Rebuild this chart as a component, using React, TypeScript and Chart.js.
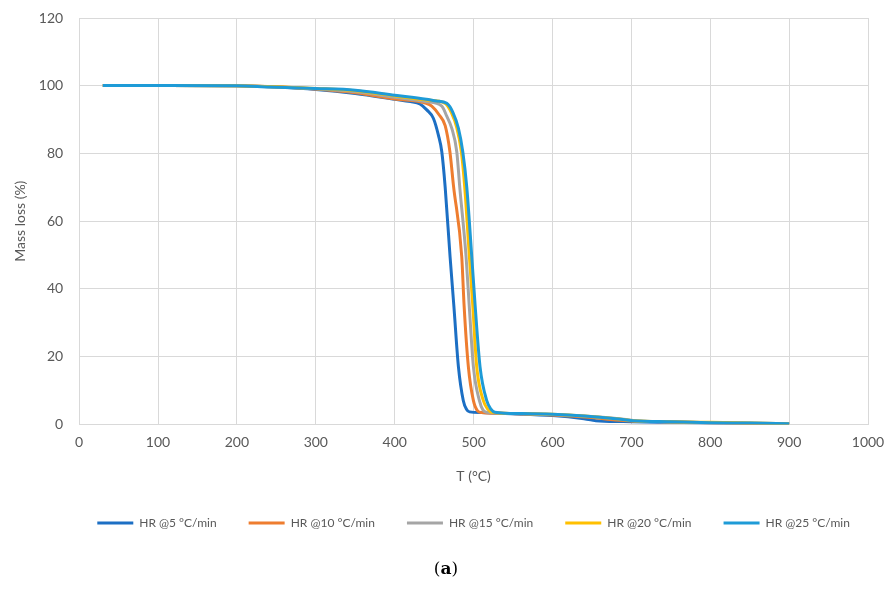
import React, { useEffect, useRef } from "react";
import { Chart, registerables } from "chart.js";

Chart.register(...registerables);

const seriesLabels = ["HR @5 °C/min", "HR @10 °C/min", "HR @15 °C/min", "HR @20 °C/min", "HR @25 °C/min"];
const seriesColors = ["#1C6FC4", "#EE7D2F", "#A5A5A5", "#FFC000", "#1E9BD7"];

const tempHR5 = [30, 100, 200, 250, 300, 350, 400, 420, 432, 441, 449, 455.4, 459.7, 464, 470.2, 475, 480.8, 487, 491, 495, 510, 540, 600, 640, 660, 700, 750, 800, 850, 900];
const massHR5 = [100.1, 100.1, 100, 99.6, 98.9, 97.7, 96, 95.3, 94.6, 92.8, 90.4, 85.4, 80.5, 70, 49.5, 35, 17, 7, 4.5, 3.7, 3.5, 3.2, 2.6, 1.7, 1.0, 0.8, 0.6, 0.4, 0.3, 0.1];

const tempHR10 = [30, 100, 200, 250, 300, 350, 400, 440, 447, 456, 464, 470, 474.5, 485, 488, 493.4, 499.8, 505, 510, 530, 600, 650, 680, 700, 750, 800, 850, 900];
const massHR10 = [100.1, 100.1, 100, 99.7, 99.0, 97.9, 96.1, 94.8, 94.0, 91.5, 88.2, 80.5, 70.5, 49.5, 35, 17, 7, 4, 3.5, 3.3, 2.8, 2.0, 1.3, 1.0, 0.8, 0.5, 0.3, 0.1];

const tempHR15 = [30, 100, 200, 250, 300, 350, 400, 440, 459.7, 466, 472.4, 478.7, 482.5, 490.5, 494.5, 499.8, 507.4, 512, 517, 550, 600, 650, 690, 710, 750, 800, 850, 900];
const massHR15 = [100.1, 100.1, 100, 99.6, 99.1, 98.2, 96.6, 95.3, 94.0, 91, 87.4, 80.5, 70, 49.5, 35, 17, 7, 4.2, 3.6, 3.2, 2.9, 2.3, 1.5, 1.0, 0.8, 0.5, 0.4, 0.2];

const tempHR20 = [30, 100, 200, 250, 300, 350, 400, 440, 464, 472, 478.5, 484.5, 488.8, 494.7, 499, 504, 512.4, 518, 523, 560, 600, 640, 680, 702, 750, 800, 850, 900];
const massHR20 = [100.1, 100.1, 100, 99.7, 99.2, 98.5, 97.0, 95.8, 94.8, 92, 87.8, 80.5, 70, 49.5, 35, 17, 7, 4.5, 3.6, 3.2, 3.0, 2.5, 1.7, 1.1, 0.8, 0.6, 0.4, 0.2];

const tempHR25 = [30, 100, 200, 242, 300, 350, 400, 440, 453, 466, 474, 480.8, 486.3, 491.4, 497.7, 502, 508.2, 516.7, 522, 527, 560, 600, 640, 680, 702, 750, 800, 850, 900];
const massHR25 = [100.1, 100.1, 100, 99.6, 99.2, 98.7, 97.2, 96, 95.5, 94.8, 92, 87.4, 80.5, 70, 49.5, 35, 17, 7, 4.5, 3.6, 3.2, 3.0, 2.5, 1.7, 1.1, 0.8, 0.5, 0.4, 0.2];

const xTicks = [0, 100, 200, 300, 400, 500, 600, 700, 800, 900, 1000];
const yTicks = [0, 20, 40, 60, 80, 100, 120];

const temps = [tempHR5, tempHR10, tempHR15, tempHR20, tempHR25];
const masses = [massHR5, massHR10, massHR15, massHR20, massHR25];

const FONT = "Lato, 'Open Sans', sans-serif";
const GRID = "#D9D9D9";
const TEXT = "#595959";

const centerLegendOnPlot = {
  id: "centerLegendOnPlot",
  afterLayout(chart: any) {
    const lg = chart.legend;
    if (!lg) return;
    const area = chart.chartArea;
    const shift = (area.left + area.right) / 2 - (lg.left + lg.right) / 2;
    lg.left += shift;
    lg.right += shift;
  },
};

export default function App() {
  const ref = useRef<HTMLCanvasElement | null>(null);

  useEffect(() => {
    if (!ref.current) return;
    const idx = [4, 3, 2, 1, 0];
    const datasets = idx.map((i) => ({
      label: seriesLabels[i],
      data: temps[i].map((t, k) => ({ x: t, y: masses[i][k] })),
      borderColor: seriesColors[i],
      backgroundColor: seriesColors[i],
      borderWidth: 3,
      pointRadius: 0,
      pointHoverRadius: 0,
      fill: false,
      cubicInterpolationMode: "monotone" as const,
      pointStyle: "line" as const,
    }));
    const chart = new Chart(ref.current, {
      type: "line",
      data: { datasets },
      plugins: [centerLegendOnPlot],
      options: {
        animation: false,
        responsive: false,
        layout: { padding: { left: 8, right: 24, top: 18, bottom: 55 } },
        plugins: {
          tooltip: { enabled: false },
          legend: {
            position: "bottom",
            reverse: true,
            fullSize: true,
            labels: {
              usePointStyle: true,
              pointStyleWidth: 36,
              padding: 32,
              color: TEXT,
              font: { family: FONT, size: 12 },
            },
          },
        },
        scales: {
          x: {
            type: "linear",
            min: 0,
            max: 1000,
            afterBuildTicks: (s: any) => { s.ticks = xTicks.map((v) => ({ value: v })); },
            afterFit: (s: any) => { s.paddingLeft = 0; s.paddingRight = 0; },
            grid: { color: GRID, lineWidth: 1, drawTicks: false },
            border: { color: GRID },
            ticks: { color: TEXT, font: { family: FONT, size: 14 }, padding: 10, callback: (v: any) => String(v) },
            title: { display: true, text: "T (°C)", color: TEXT, font: { family: FONT, size: 14 }, padding: { top: 7, bottom: 0 } },
          },
          y: {
            type: "linear",
            min: 0,
            max: 120,
            afterBuildTicks: (s: any) => { s.ticks = yTicks.map((v) => ({ value: v })); },
            afterFit: (s: any) => { s.paddingTop = 0; s.paddingBottom = 0; },
            grid: { color: GRID, lineWidth: 1, drawTicks: false },
            border: { color: GRID },
            ticks: { color: TEXT, font: { family: FONT, size: 14 }, padding: 16, callback: (v: any) => String(v) },
            title: { display: true, text: "Mass loss (%)", color: TEXT, font: { family: FONT, size: 14 }, padding: { top: 4, bottom: -6 } },
          },
        },
      },
    });
    return () => chart.destroy();
  }, []);

  return (
    <div style={{ position: "fixed", left: 0, top: 0, width: 892, height: 594, background: "#fff" }}>
      <canvas ref={ref} width={892} height={594} style={{ display: "block" }} />
      <div
        style={{
          position: "absolute",
          left: 0,
          width: 892,
          top: 558,
          textAlign: "center",
          fontFamily: "'DejaVu Serif', 'Liberation Serif', serif",
          fontSize: 17,
          color: "#000",
        }}
      >
        (<b>a</b>)
      </div>
    </div>
  );
}
